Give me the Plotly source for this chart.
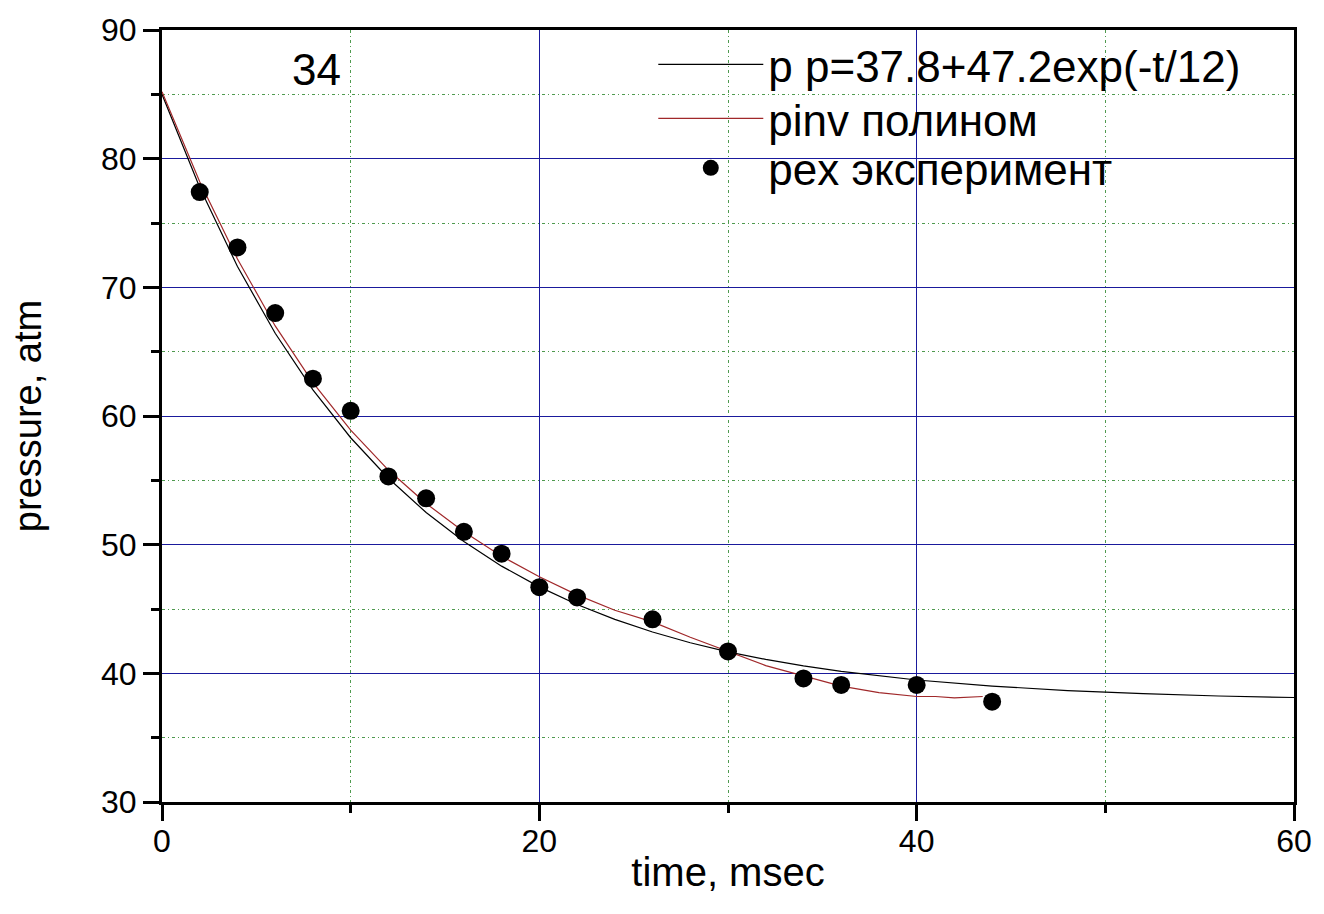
import plotly.graph_objects as go

# experimental points
t_exp = [2, 4, 6, 8, 10, 12, 14, 16, 18, 20, 22, 26, 30, 34, 36, 40, 44]
p_exp = [77.4, 73.1, 68.0, 62.9, 60.4, 55.3, 53.6, 51.0, 49.3, 46.7, 45.9, 44.2, 41.7, 39.6, 39.1, 39.1, 37.8]

# exponential fit curve
t_fit = [0, 2, 4, 6, 8, 10, 12, 14, 16, 18, 20, 22, 24, 26, 28, 30, 32, 34, 36, 38, 40, 44, 48, 52, 56, 60]
p_fit = [85.0, 77.76, 71.62, 66.43, 62.03, 58.31, 55.16, 52.50, 50.24, 48.33, 46.72, 45.35, 44.19,
         43.21, 42.38, 41.67, 41.08, 40.58, 40.15, 39.79, 39.48, 39.01, 38.66, 38.42, 38.24, 38.12]

# polynomial curve
t_pol = [0, 2, 4, 6, 8, 10, 12, 14, 16, 18, 20, 22, 24, 26, 28, 30, 32, 34, 36, 38, 40, 41, 42, 43.5]
p_pol = [85.2, 78.2, 72.2, 67.0, 62.6, 58.9, 55.8, 53.2, 51.0, 49.1, 47.5, 46.1, 44.9, 44.0, 42.8,
         41.7, 40.6, 39.8, 39.0, 38.5, 38.2, 38.2, 38.1, 38.2]

names = ["p p=37.8+47.2exp(-t/12)", "pinv полином", "pex эксперимент"]
label_34 = "34"

FONT = "Liberation Sans, Arial, sans-serif"

fig = go.Figure()
fig.add_trace(go.Scatter(x=t_fit, y=p_fit, mode="lines", name=names[0], legend="legend",
                         line=dict(color="black", width=1.2)))
fig.add_trace(go.Scatter(x=t_pol, y=p_pol, mode="lines", name=names[1], legend="legend2",
                         line=dict(color="#a0282a", width=1.2)))
fig.add_trace(go.Scatter(x=t_exp, y=p_exp, mode="markers", name=names[2], legend="legend3",
                         marker=dict(color="black", size=18)))

fig.add_annotation(x=8.2, y=86.9, text=label_34, showarrow=False,
                   font=dict(size=44, color="black", family=FONT))

minor_grid = dict(showgrid=True, gridcolor="#4f9a4f", gridwidth=1,
                  griddash="3px,3px,1px,3px", ticks="outside",
                  ticklen=8, tickwidth=3, tickcolor="black")

fig.update_xaxes(range=[0, 60], dtick=20, tick0=0, showgrid=True, gridcolor="#1a1a9c",
                 gridwidth=1, ticks="outside", ticklen=16, tickwidth=3, tickcolor="black",
                 showline=True, linewidth=3, linecolor="black", mirror=True,
                 zeroline=False, ticklabelstandoff=-7,
                 tickfont=dict(size=32, family=FONT, color="black"),
                 title=dict(text="time, msec", font=dict(size=40, family=FONT, color="black"),
                            standoff=0),
                 minor=dict(dtick=10, tick0=0, **minor_grid))
fig.update_yaxes(range=[30, 90], dtick=10, tick0=30, showgrid=True, gridcolor="#1a1a9c",
                 gridwidth=1, ticks="outside", ticklen=16, tickwidth=3, tickcolor="black",
                 showline=True, linewidth=3, linecolor="black", mirror=True,
                 zeroline=False,
                 tickfont=dict(size=32, family=FONT, color="black"),
                 title=dict(text="pressure, atm", font=dict(size=38, family=FONT, color="black"),
                            standoff=48),
                 minor=dict(dtick=5, tick0=30, **minor_grid))

leg_common = dict(x=0.434, xanchor="left", yanchor="middle",
                  bgcolor="rgba(0,0,0,0)", borderwidth=0,
                  font=dict(size=44, family=FONT, color="black"),
                  itemwidth=105, tracegroupgap=0)

fig.update_layout(
    width=1324, height=914,
    margin=dict(l=162, r=23, t=28, b=112),
    paper_bgcolor="white", plot_bgcolor="white",
    font=dict(family=FONT, color="black"),
    showlegend=True,
    legend=dict(y=0.955, **leg_common),
    legend2=dict(y=0.885, **leg_common),
    legend3=dict(y=0.821, **leg_common),
)

fig.write_html("out.html")
